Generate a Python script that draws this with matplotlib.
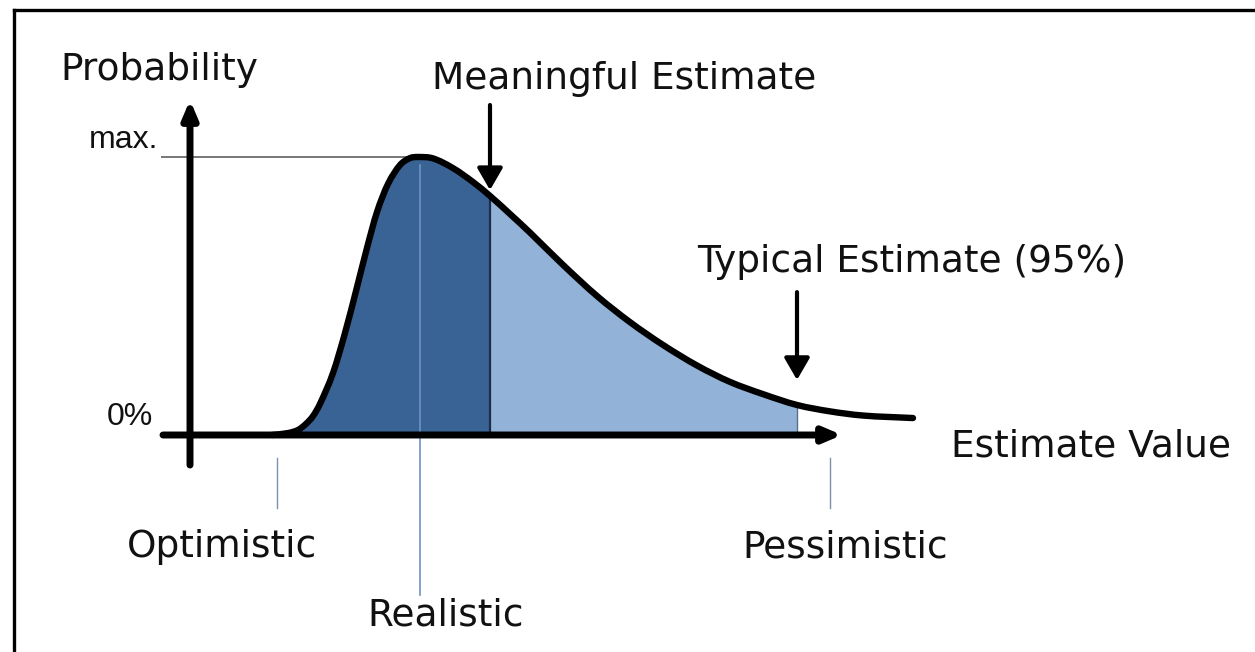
import matplotlib.pyplot as plt
from matplotlib.lines import Line2D
from matplotlib.path import Path
from matplotlib.patches import PathPatch

# ========================
# Data
# ========================
# estimate value (x) vs. relative probability (1.0 = max.)
curve_x = [0.82, 0.98, 1.08, 1.16, 1.23, 1.30, 1.43, 1.55, 1.67, 1.77, 1.87, 1.98,
           2.10, 2.20, 2.28, 2.43, 2.63, 2.83, 3.00, 3.20, 3.40, 3.73, 4.07, 4.40,
           4.73, 5.07, 5.40, 5.73, 6.07, 6.40, 6.73, 7.23]
curve_p = [0.000, 0.007, 0.018, 0.040, 0.068, 0.112, 0.223, 0.367, 0.532, 0.673, 0.802, 0.903,
           0.971, 0.996, 1.000, 0.995, 0.960, 0.910, 0.860, 0.795, 0.728, 0.612, 0.500, 0.406,
           0.324, 0.250, 0.191, 0.147, 0.108, 0.085, 0.070, 0.061]

optimistic = 0.87
realistic = 2.30
meaningful = 3.00
typical = 6.07
pessimistic = 6.40
p_max = 1.0

point_labels = ["Optimistic", "Realistic", "Pessimistic"]

dark_blue = "#3a6395"
light_blue = "#93b2d7"
text_col = "#111111"

plt.rcParams["font.family"] = ["DejaVu Sans"]


def smooth_verts(xs, ys, i0, i1):
    # smooth (hermite) path through the read points, as cubic bezier segments
    n = len(xs)
    m = []
    for i in range(n):
        a, b = max(i - 1, 0), min(i + 1, n - 1)
        m.append((ys[b] - ys[a]) / (xs[b] - xs[a]))
    verts = [(xs[i0], ys[i0])]
    codes = [Path.MOVETO]
    for i in range(i0, i1):
        h = xs[i + 1] - xs[i]
        verts += [(xs[i] + h / 3, ys[i] + m[i] * h / 3),
                  (xs[i + 1] - h / 3, ys[i + 1] - m[i + 1] * h / 3),
                  (xs[i + 1], ys[i + 1])]
        codes += [Path.CURVE4] * 3
    return verts, codes


fig = plt.figure(figsize=(12.55, 6.52), dpi=100)
ax = fig.add_axes([0, 0, 1, 1])
ax.set_xlim(-1.9, 10.65)
ax.set_ylim(-217 / 278, 435 / 278)
ax.axis("off")

# ========================
# Filled areas
# ========================
i_mean = curve_x.index(meaningful)
i_typ = curve_x.index(typical)
for a, b, col in [(0, i_mean, dark_blue), (i_mean, i_typ, light_blue)]:
    v, c = smooth_verts(curve_x, curve_p, a, b)
    v += [(curve_x[b], 0), (curve_x[a], 0), (curve_x[a], 0)]
    c += [Path.LINETO, Path.LINETO, Path.CLOSEPOLY]
    ax.add_patch(PathPatch(Path(v, c), facecolor=col, lw=0, zorder=1))

# separators
ax.plot([meaningful, meaningful], [0, curve_p[i_mean]], color="#1b2d47", lw=1.6, zorder=2)
ax.plot([typical, typical], [0, curve_p[i_typ]], color="#55708f", lw=1.0, zorder=2)

# realistic line + max line
ax.plot([realistic, realistic], [0.97, -0.576], color="#6d92c2", lw=1.2, zorder=2)
ax.plot([-0.28, realistic - 0.05], [p_max, p_max], color="#777777", lw=1.4, zorder=2)

# optimistic / pessimistic ticks
for xv in [optimistic, pessimistic]:
    ax.plot([xv, xv], [-0.083, -0.263], color="#7c92ab", lw=1.0, zorder=2)

# curve
v, c = smooth_verts(curve_x, curve_p, 0, len(curve_x) - 1)
ax.add_patch(PathPatch(Path(v, c), facecolor="none", edgecolor="black", lw=4.6,
                       capstyle="round", joinstyle="round", zorder=4))

# ========================
# Axes arrows
# ========================
axis_arrow = dict(arrowstyle="-|>,head_length=0.75,head_width=0.32", lw=5,
                  color="black", shrinkA=0, shrinkB=0, mutation_scale=14)
ax.annotate("", xy=(6.52, 0), xytext=(-0.27, 0), arrowprops=axis_arrow, zorder=5)
ax.annotate("", xy=(0, 1.205), xytext=(0, -0.108), arrowprops=axis_arrow, zorder=5)

pointer = dict(arrowstyle="-|>,head_length=0.95,head_width=0.55", lw=3,
               color="black", shrinkA=0, shrinkB=0, mutation_scale=14)
ax.annotate("", xy=(meaningful, 0.881), xytext=(meaningful, 1.187), arrowprops=pointer, zorder=5)
ax.annotate("", xy=(typical, 0.198), xytext=(typical, 0.514), arrowprops=pointer, zorder=5)

# ========================
# Texts
# ========================
fs = 27
ax.text(-0.31, 1.277, "Probability", fontsize=fs, color=text_col, ha="center", va="baseline")
ax.text(-0.32, 1.032, "max.", fontsize=23, family="Liberation Sans", color=text_col,
        ha="right", va="baseline")
ax.text(-0.37, 0.036, "0%", fontsize=23, family="Liberation Sans", color=text_col,
        ha="right", va="baseline")
ax.text(4.345, 1.245, "Meaningful Estimate", fontsize=fs, color=text_col, ha="center", va="baseline")
ax.text(7.215, 0.586, "Typical Estimate (95%)", fontsize=fs, color=text_col, ha="center", va="baseline")
ax.text(9.01, -0.076, "Estimate Value", fontsize=fs, color=text_col, ha="center", va="baseline")
ax.text(0.325, -0.439, point_labels[0], fontsize=fs, color=text_col, ha="center", va="baseline")
ax.text(2.56, -0.687, point_labels[1], fontsize=fs, color=text_col, ha="center", va="baseline")
ax.text(6.55, -0.439, point_labels[2], fontsize=fs, color=text_col, ha="center", va="baseline")

# frame (top + left edge only visible)
fig.add_artist(Line2D([14 / 1255, 1], [1 - 10 / 652, 1 - 10 / 652], color="black", lw=2.4))
fig.add_artist(Line2D([14 / 1255, 14 / 1255], [0, 1 - 10 / 652], color="black", lw=2.4))

fig.savefig("out.png", dpi=100, facecolor="white")
